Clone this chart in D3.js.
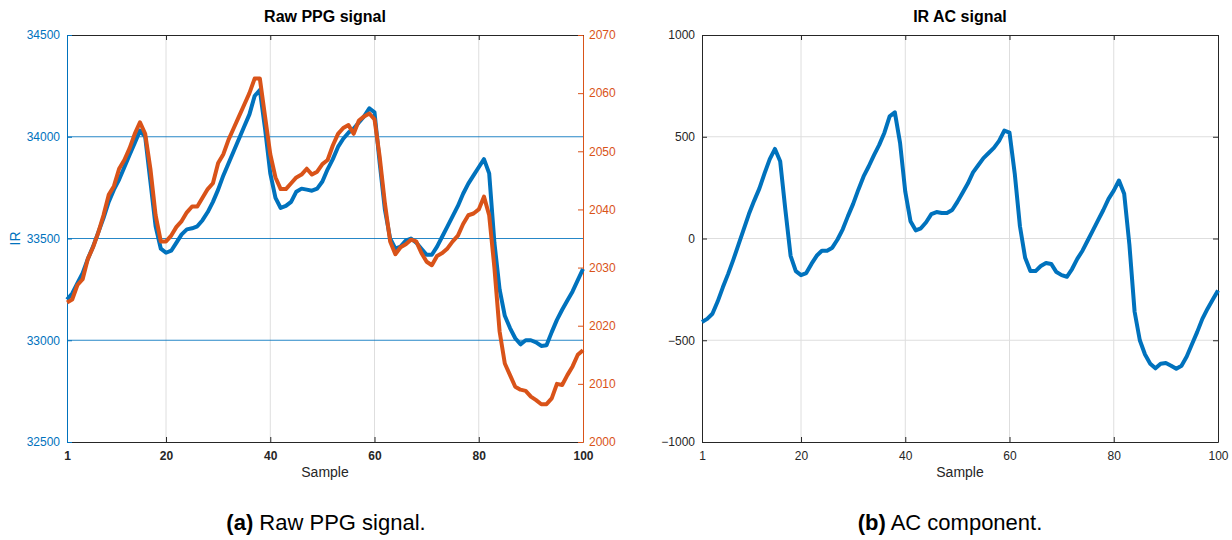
<!DOCTYPE html>
<html>
<head>
<meta charset="utf-8">
<script src="https://cdn.jsdelivr.net/npm/d3@7/dist/d3.min.js"></script>
<style>
body { margin: 0; background: #fff; }
text { font-family: "Liberation Sans", Arial, Helvetica, sans-serif; }
</style>
</head>
<body>
<svg id="chart" width="1232" height="540"></svg>
<script>
// sample index 1..100
var samples = d3.range(1, 101);

// IR raw values (left axis)
var irRaw = [
    33200, 33230, 33280, 33330, 33400, 33460, 33530, 33600, 33680, 33740,
    33790, 33850, 33910, 33970, 34030, 34000, 33780, 33560, 33450, 33430,
    33440, 33480, 33520, 33545, 33550, 33560, 33590, 33630, 33680, 33740,
    33810, 33870, 33930, 33990, 34050, 34110, 34200, 34230, 34040, 33820,
    33700, 33650, 33660, 33680, 33730, 33745, 33740, 33735, 33745, 33780,
    33840, 33890, 33950, 33990, 34020, 34040, 34070, 34100, 34140, 34120,
    33870, 33640, 33500, 33450, 33460, 33490, 33500, 33480, 33450, 33420,
    33420, 33460, 33510, 33560, 33610, 33660, 33720, 33770, 33810, 33850,
    33890, 33820, 33480, 33250, 33120, 33060, 33010, 32980, 33000, 33000,
    32990, 32972, 32975, 33040, 33100, 33150, 33195, 33240, 33295, 33350
];

// red raw values (right axis)
var redRaw = [
    2024, 2024.5, 2027, 2028, 2031.5, 2033.5, 2036, 2039, 2042.5, 2044,
    2047, 2048.5, 2050.5, 2053, 2055, 2053, 2047, 2039, 2034.5, 2034.5,
    2035.5, 2037, 2038, 2039.5, 2040.5, 2040.5, 2042, 2043.5, 2044.5, 2048,
    2049.5, 2052, 2054, 2056, 2058, 2060, 2062.5, 2062.5, 2056, 2049.5,
    2045.5, 2043.5, 2043.5, 2044.5, 2045.5, 2046, 2047, 2046, 2046.5, 2047.8,
    2048.5, 2051, 2053, 2054, 2054.5, 2053, 2055.3, 2056, 2056.5, 2055.5,
    2049, 2041, 2034.5, 2032.3, 2033.5, 2034, 2034.8, 2034.5, 2032.5, 2031,
    2030.4, 2032, 2032.5, 2033.3, 2034.5, 2035.5, 2037.5, 2039, 2039.3, 2040,
    2042.2, 2039, 2030, 2019, 2013.5, 2011.5, 2009.5, 2009, 2008.8, 2007.8,
    2007.2, 2006.5, 2006.5, 2007.5, 2010, 2009.8, 2011.5, 2013, 2015, 2015.8
];

// IR AC component
var irAC = [
    -410, -395, -370, -310, -240, -175, -105, -30, 45, 120,
    185, 245, 320, 390, 440, 380, 140, -85, -160, -180,
    -170, -125, -85, -60, -60, -45, -5, 45, 110, 170,
    240, 305, 355, 410, 460, 520, 600, 620, 470, 230,
    85, 40, 50, 80, 120, 130, 125, 125, 140, 180,
    225, 270, 325, 360, 395, 420, 445, 480, 530, 520,
    320, 60, -95, -160, -160, -135, -120, -125, -165, -180,
    -188, -150, -100, -60, -10, 40, 90, 140, 195, 235,
    285, 220, -30, -360, -500, -570, -615, -638, -615, -612,
    -625, -640, -625, -580, -520, -460, -395, -345, -300, -255
];

var xTicks = [1, 20, 40, 60, 80, 100];
var irTicks = [32500, 33000, 33500, 34000, 34500];
var redTicks = [2000, 2010, 2020, 2030, 2040, 2050, 2060, 2070];
var acTicks = [-1000, -500, 0, 500, 1000];

var blue = "#0072BD", orange = "#D95319", dark = "#262626", gridGray = "#dedede";
var tickLen = 5;

var svg = d3.select("#chart");

function styleAxis(g, color, size, weight) {
    g.select(".domain").attr("stroke", color).attr("stroke-width", 1);
    g.selectAll(".tick line").attr("stroke", color);
    g.selectAll(".tick text")
        .attr("fill", color)
        .style("font-size", size + "px")
        .style("font-weight", weight || "normal");
}

// ---------- (a) Raw PPG signal ----------
var left = { x0: 67, x1: 583, y0: 35, y1: 442 };
var xL = d3.scaleLinear().domain([1, 100]).range([left.x0, left.x1]);
var yIR = d3.scaleLinear().domain([32500, 34500]).range([left.y1, left.y0]);
var yRed = d3.scaleLinear().domain([2000, 2070]).range([left.y1, left.y0]);

var gA = svg.append("g");

// vertical grid (gray)
gA.selectAll(".vgrid")
    .data(xTicks.slice(1, -1))
    .enter().append("line")
    .attr("x1", d => xL(d)).attr("x2", d => xL(d))
    .attr("y1", left.y0).attr("y2", left.y1)
    .attr("stroke", gridGray);

// horizontal grid follows the left (blue) axis
gA.selectAll(".hgrid")
    .data(irTicks.slice(1, -1))
    .enter().append("line")
    .attr("x1", left.x0).attr("x2", left.x1)
    .attr("y1", d => yIR(d)).attr("y2", d => yIR(d))
    .attr("stroke", blue).attr("stroke-opacity", 0.85);

gA.append("g")
    .attr("transform", "translate(0," + left.y1 + ")")
    .call(d3.axisBottom(xL).tickValues(xTicks).tickSizeInner(-tickLen).tickSizeOuter(0).tickPadding(9))
    .call(g => styleAxis(g, dark, 12, "bold"));

gA.append("g")
    .attr("transform", "translate(0," + left.y0 + ")")
    .call(d3.axisTop(xL).tickValues(xTicks).tickSizeInner(-tickLen).tickSizeOuter(0).tickFormat(""))
    .call(g => styleAxis(g, dark, 12));

gA.append("g")
    .attr("transform", "translate(" + left.x0 + ",0)")
    .call(d3.axisLeft(yIR).tickValues(irTicks).tickSizeInner(-tickLen).tickSizeOuter(0).tickPadding(7).tickFormat(d3.format("d")))
    .call(g => styleAxis(g, blue, 12));

gA.append("g")
    .attr("transform", "translate(" + left.x1 + ",0)")
    .call(d3.axisRight(yRed).tickValues(redTicks).tickSizeInner(-tickLen).tickSizeOuter(0).tickPadding(6).tickFormat(d3.format("d")))
    .call(g => styleAxis(g, orange, 12));

var lineIR = d3.line().x((d, i) => xL(samples[i])).y(d => yIR(d));
var lineRed = d3.line().x((d, i) => xL(samples[i])).y(d => yRed(d));

gA.append("path")
    .datum(irRaw)
    .attr("d", lineIR)
    .attr("fill", "none").attr("stroke", blue)
    .attr("stroke-width", 4).attr("stroke-linejoin", "round");

gA.append("path")
    .datum(redRaw)
    .attr("d", lineRed)
    .attr("fill", "none").attr("stroke", orange)
    .attr("stroke-width", 4).attr("stroke-linejoin", "round");

gA.append("text")
    .attr("x", (left.x0 + left.x1) / 2).attr("y", 22)
    .attr("text-anchor", "middle")
    .style("font-size", "16px").style("font-weight", "bold")
    .text("Raw PPG signal");

gA.append("text")
    .attr("x", (left.x0 + left.x1) / 2).attr("y", 477)
    .attr("text-anchor", "middle")
    .attr("fill", dark)
    .style("font-size", "14px")
    .text("Sample");

gA.append("text")
    .attr("transform", "translate(20," + (left.y0 + left.y1) / 2 + ") rotate(-90)")
    .attr("text-anchor", "middle")
    .attr("fill", blue)
    .style("font-size", "14px")
    .text("IR");

var capA = gA.append("text")
    .attr("x", 326).attr("y", 530)
    .attr("text-anchor", "middle")
    .style("font-size", "22px");
capA.append("tspan").style("font-weight", "bold").text("(a)");
capA.append("tspan").text(" Raw PPG signal.");

// ---------- (b) IR AC signal ----------
var right = { x0: 702, x1: 1218, y0: 35, y1: 442 };
var xR = d3.scaleLinear().domain([1, 100]).range([right.x0, right.x1]);
var yAC = d3.scaleLinear().domain([-1000, 1000]).range([right.y1, right.y0]);

var gB = svg.append("g");

gB.selectAll(".vgrid")
    .data(xTicks.slice(1, -1))
    .enter().append("line")
    .attr("x1", d => xR(d)).attr("x2", d => xR(d))
    .attr("y1", right.y0).attr("y2", right.y1)
    .attr("stroke", gridGray);

gB.selectAll(".hgrid")
    .data(acTicks.slice(1, -1))
    .enter().append("line")
    .attr("x1", right.x0).attr("x2", right.x1)
    .attr("y1", d => yAC(d)).attr("y2", d => yAC(d))
    .attr("stroke", gridGray);

gB.append("g")
    .attr("transform", "translate(0," + right.y1 + ")")
    .call(d3.axisBottom(xR).tickValues(xTicks).tickSizeInner(-tickLen).tickSizeOuter(0).tickPadding(9))
    .call(g => styleAxis(g, dark, 12));

gB.append("g")
    .attr("transform", "translate(0," + right.y0 + ")")
    .call(d3.axisTop(xR).tickValues(xTicks).tickSizeInner(-tickLen).tickSizeOuter(0).tickFormat(""))
    .call(g => styleAxis(g, dark, 12));

gB.append("g")
    .attr("transform", "translate(" + right.x0 + ",0)")
    .call(d3.axisLeft(yAC).tickValues(acTicks).tickSizeInner(-tickLen).tickSizeOuter(0).tickPadding(7).tickFormat(d3.format("d")))
    .call(g => styleAxis(g, dark, 12));

gB.append("g")
    .attr("transform", "translate(" + right.x1 + ",0)")
    .call(d3.axisRight(yAC).tickValues(acTicks).tickSizeInner(-tickLen).tickSizeOuter(0).tickFormat(""))
    .call(g => styleAxis(g, dark, 12));

var lineAC = d3.line().x((d, i) => xR(samples[i])).y(d => yAC(d));

gB.append("path")
    .datum(irAC)
    .attr("d", lineAC)
    .attr("fill", "none").attr("stroke", blue)
    .attr("stroke-width", 4).attr("stroke-linejoin", "round");

gB.append("text")
    .attr("x", (right.x0 + right.x1) / 2).attr("y", 22)
    .attr("text-anchor", "middle")
    .style("font-size", "16px").style("font-weight", "bold")
    .text("IR AC signal");

gB.append("text")
    .attr("x", (right.x0 + right.x1) / 2).attr("y", 477)
    .attr("text-anchor", "middle")
    .attr("fill", dark)
    .style("font-size", "14px")
    .text("Sample");

var capB = gB.append("text")
    .attr("x", 950).attr("y", 530)
    .attr("text-anchor", "middle")
    .style("font-size", "22px");
capB.append("tspan").style("font-weight", "bold").text("(b)");
capB.append("tspan").text(" AC component.");
</script>
</body>
</html>
